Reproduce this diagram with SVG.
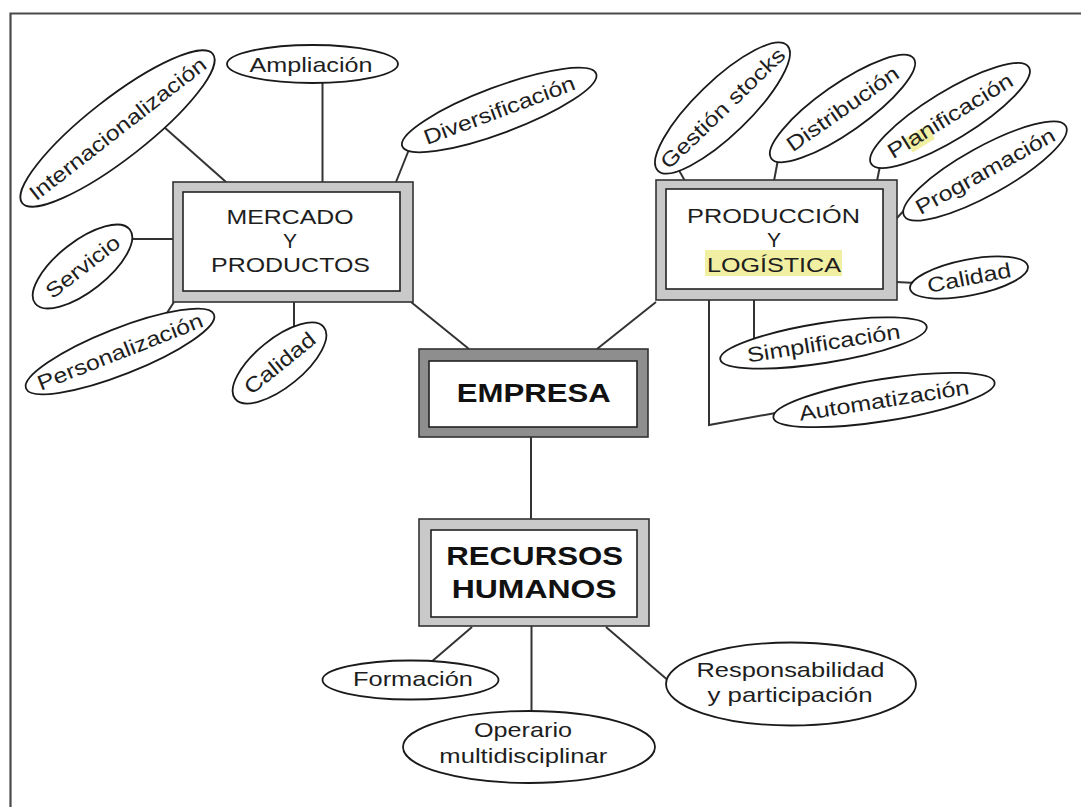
<svg xmlns="http://www.w3.org/2000/svg" width="1081" height="807" viewBox="0 0 1081 807">
<style>
.frame{fill:none;stroke:#4a4a4a;stroke-width:2.2}
.con{fill:none;stroke:#333;stroke-width:2}
.ell{fill:#fff;stroke:#1a1a1a;stroke-width:1.8}
.band{fill:#c9c9c9;stroke:#333;stroke-width:1.6}
.bandd{fill:#8e8e8e;stroke:#333;stroke-width:1.6}
.inner{fill:#fff;stroke:#222;stroke-width:1.6}
.t{font-family:"Liberation Sans",Arial,Helvetica,sans-serif;font-size:21px;fill:#1e1e1e;text-anchor:middle}
.b{font-weight:bold;font-size:26px;fill:#111}
.hl{fill:#f1efa2}
</style>
<rect x="0" y="0" width="1081" height="807" fill="#fff"/>
<path class="frame" d="M10.5,807 V13.5 H1081"/>

<g id="connectors">
<line class="con" x1="164" y1="127" x2="226" y2="182"/>
<line class="con" x1="322.5" y1="80" x2="322.5" y2="182"/>
<line class="con" x1="410" y1="147" x2="396" y2="182"/>
<line class="con" x1="128" y1="239" x2="173" y2="239"/>
<line class="con" x1="165" y1="316" x2="174" y2="302"/>
<line class="con" x1="294" y1="302" x2="294" y2="330"/>
<line class="con" x1="411" y1="302" x2="469" y2="349"/>
<line class="con" x1="676" y1="165" x2="685" y2="181"/>
<line class="con" x1="779" y1="154" x2="774" y2="181"/>
<line class="con" x1="881" y1="161" x2="877" y2="181"/>
<line class="con" x1="911" y1="203" x2="896" y2="219"/>
<line class="con" x1="896" y1="282" x2="916" y2="283"/>
<line class="con" x1="754" y1="300" x2="754" y2="340"/>
<polyline class="con" points="709,300 709,425 781,412"/>
<line class="con" x1="656" y1="302" x2="597" y2="349"/>
<line class="con" x1="531" y1="437" x2="531" y2="519"/>
<line class="con" x1="472" y1="627" x2="430" y2="663"/>
<line class="con" x1="531.5" y1="626" x2="531.5" y2="715"/>
<line class="con" x1="606" y1="627" x2="670" y2="682"/>
</g>

<g id="mercado">
<rect class="band" x="173" y="182" width="240" height="120"/>
<rect class="inner" x="183" y="192" width="217" height="99"/>
<text class="t" x="290" y="224" textLength="127" lengthAdjust="spacingAndGlyphs">MERCADO</text>
<text class="t" x="290" y="248">Y</text>
<text class="t" x="290.5" y="272" textLength="159" lengthAdjust="spacingAndGlyphs">PRODUCTOS</text>
</g>

<g id="produccion">
<rect class="band" x="656" y="180" width="241" height="120"/>
<rect class="inner" x="666" y="189" width="217" height="100"/>
<rect class="hl" x="705" y="250" width="137" height="26"/>
<text class="t" x="773.5" y="223" textLength="173" lengthAdjust="spacingAndGlyphs">PRODUCCIÓN</text>
<text class="t" x="774" y="247">Y</text>
<text class="t" x="774" y="272" textLength="134" lengthAdjust="spacingAndGlyphs">LOGÍSTICA</text>
</g>

<g id="empresa">
<rect class="bandd" x="419" y="349" width="229" height="88"/>
<rect class="inner" x="429" y="361" width="208" height="66"/>
<text class="t b" x="533.7" y="401.7" textLength="154" lengthAdjust="spacingAndGlyphs">EMPRESA</text>
</g>

<g id="recursos">
<rect class="band" x="419" y="519" width="230" height="107"/>
<rect class="inner" x="431" y="530" width="206" height="87"/>
<text class="t b" x="534.7" y="565" textLength="177" lengthAdjust="spacingAndGlyphs">RECURSOS</text>
<text class="t b" x="534.2" y="598.3" textLength="165" lengthAdjust="spacingAndGlyphs">HUMANOS</text>
</g>

<g id="internacionalizacion" transform="translate(117.5,128.5) rotate(-38)">
<ellipse class="ell" cx="0" cy="0" rx="121" ry="30"/>
<text class="t" x="0" y="7.5" textLength="218" lengthAdjust="spacingAndGlyphs">Internacionalización</text>
</g>

<g id="ampliacion">
<ellipse class="ell" cx="312.5" cy="64" rx="85.5" ry="19"/>
<text class="t" x="311" y="71.7" textLength="123" lengthAdjust="spacingAndGlyphs">Ampliación</text>
</g>

<g id="diversificacion" transform="translate(499.2,110) rotate(-20.5)">
<ellipse class="ell" cx="0" cy="0" rx="103.5" ry="23"/>
<text class="t" x="0" y="7.5" textLength="160" lengthAdjust="spacingAndGlyphs">Diversificación</text>
</g>

<g id="servicio" transform="translate(82.5,266.5) rotate(-38)">
<ellipse class="ell" cx="0" cy="0" rx="60" ry="25"/>
<text class="t" x="0" y="7.5" textLength="88" lengthAdjust="spacingAndGlyphs">Servicio</text>
</g>

<g id="personalizacion" transform="translate(120,351.5) rotate(-21.5)">
<ellipse class="ell" cx="0" cy="0" rx="101" ry="23"/>
<text class="t" x="0" y="7.5" textLength="176" lengthAdjust="spacingAndGlyphs">Personalización</text>
</g>

<g id="calidad-mercado" transform="translate(279.5,363) rotate(-39)">
<ellipse class="ell" cx="0" cy="0" rx="57" ry="24"/>
<text class="t" x="0" y="7.5" textLength="85" lengthAdjust="spacingAndGlyphs">Calidad</text>
</g>

<g id="gestion-stocks" transform="translate(722.5,108) rotate(-44)">
<ellipse class="ell" cx="0" cy="0" rx="90" ry="27"/>
<text class="t" x="0" y="7.5" textLength="164" lengthAdjust="spacingAndGlyphs">Gestión stocks</text>
</g>

<g id="distribucion" transform="translate(842.5,108.5) rotate(-35)">
<ellipse class="ell" cx="0" cy="0" rx="87" ry="24"/>
<text class="t" x="0" y="7.5" textLength="132" lengthAdjust="spacingAndGlyphs">Distribución</text>
</g>

<g id="planificacion" transform="translate(950,115.5) rotate(-31.5)">
<ellipse class="ell" cx="0" cy="0" rx="92.5" ry="24"/>
<rect class="hl" x="-51" y="-4" width="26" height="16"/>
<text class="t" x="0" y="7.5" textLength="143" lengthAdjust="spacingAndGlyphs">Planificación</text>
</g>

<g id="programacion" transform="translate(985,171) rotate(-29)">
<ellipse class="ell" cx="0" cy="0" rx="92.5" ry="24"/>
<text class="t" x="0" y="7.5" textLength="156" lengthAdjust="spacingAndGlyphs">Programación</text>
</g>

<g id="calidad-produccion" transform="translate(969,277.5) rotate(-11)">
<ellipse class="ell" cx="0" cy="0" rx="60" ry="18"/>
<text class="t" x="0" y="7.5" textLength="85" lengthAdjust="spacingAndGlyphs">Calidad</text>
</g>

<g id="simplificacion" transform="translate(823.5,343) rotate(-9)">
<ellipse class="ell" cx="0" cy="0" rx="104.5" ry="20"/>
<text class="t" x="0" y="7.5" textLength="155" lengthAdjust="spacingAndGlyphs">Simplificación</text>
</g>

<g id="automatizacion" transform="translate(884,400) rotate(-9)">
<ellipse class="ell" cx="0" cy="0" rx="112" ry="21"/>
<text class="t" x="0" y="7.5" textLength="172" lengthAdjust="spacingAndGlyphs">Automatización</text>
</g>

<g id="formacion">
<ellipse class="ell" cx="410.5" cy="680" rx="88" ry="19.5"/>
<text class="t" x="413" y="685.5" textLength="120" lengthAdjust="spacingAndGlyphs">Formación</text>
</g>

<g id="operario">
<ellipse class="ell" cx="529" cy="747" rx="126" ry="36"/>
<text class="t" x="523" y="736.7" textLength="98" lengthAdjust="spacingAndGlyphs">Operario</text>
<text class="t" x="523.3" y="762.7" textLength="168" lengthAdjust="spacingAndGlyphs">multidisciplinar</text>
</g>

<g id="responsabilidad">
<ellipse class="ell" cx="791" cy="684" rx="125" ry="41.5"/>
<text class="t" x="790.5" y="677.3" textLength="188" lengthAdjust="spacingAndGlyphs">Responsabilidad</text>
<text class="t" x="790" y="701.5" textLength="165" lengthAdjust="spacingAndGlyphs">y participación</text>
</g>
</svg>
